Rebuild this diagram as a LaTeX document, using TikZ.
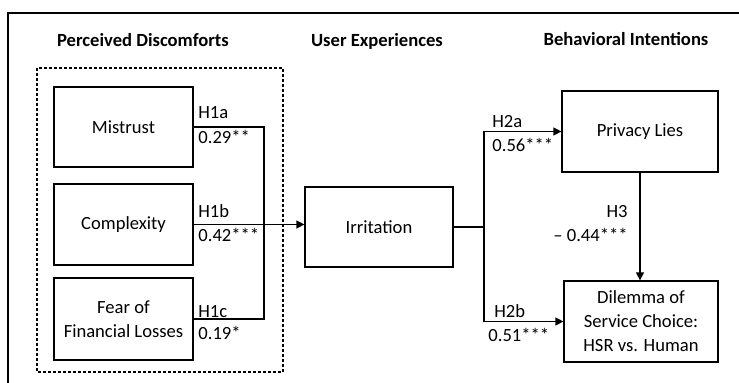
\documentclass[tikz,border=0pt]{standalone}
\usepackage{fontspec}
\setmainfont{Carlito}
\usetikzlibrary{arrows.meta}
\begin{document}
\begin{tikzpicture}[x=0.5pt, y=-0.5pt, font=\fontsize{9.3}{12}\selectfont,
		cbox/.style={draw, line width=0.6pt, align=center, inner sep=0pt},
		lbl/.style={inner sep=0pt},
		ttl/.style={inner sep=0pt, anchor=base, font=\fontsize{9.3}{12}\selectfont\bfseries},
		path_l/.style={line width=0.6pt},
		arr/.style={path_l, -{Triangle[length=4pt, width=4pt]}}]
		\useasboundingbox (0,0) rectangle (739,383);
		% outer frame (cut off right and below)
		\draw[line width=0.8pt] (739,13) -- (8,13) -- (8,383);
		
		% column titles
		\node[ttl] (t1) at (143,47) {Perceived Discomforts};
		\node[ttl] (t2) at (377,47) {User Experiences};
		\node[ttl] (t3) at (626,46) {Behavioral Intentions};
		
		% dashed group
		\draw[line width=0.6pt, dash pattern=on 1.5pt off 1pt] (37,68) rectangle (283,372);
		
		% boxes
		\node[cbox, minimum width=69.5pt, minimum height=40pt] (mistrust) at (123.5,127) {Mistrust};
		\node[cbox, minimum width=69.5pt, minimum height=40.5pt] (complexity) at (123.5,224.5) {Complexity};
		\node[cbox, minimum width=69.5pt, minimum height=41pt] (fear) at (123.5,319) {Fear of\\Financial Losses};
		\node[cbox, minimum width=74pt, minimum height=40pt] (irritation) at (379,227) {Irritation};
		\node[cbox, minimum width=78pt, minimum height=40.5pt] (privacy) at (640,131.5) {Privacy Lies};
		\node[cbox, minimum width=77pt, minimum height=40.5pt] (dilemma) at (641,321.5) {Dilemma of\\Service Choice:\\HSR vs. Human};
		
		% junctions
		\coordinate (j1) at (264,224);
		\coordinate (j2) at (484,227);
		
		% connectors
		\draw[path_l] (mistrust.east) -| (j1);
		\draw[path_l] (fear.east) -| (j1);
		\draw[arr] (complexity.east) -- (complexity.east -| irritation.west);
		\draw[path_l] (irritation.east) -- (j2);
		\draw[arr] (j2) |- (privacy.west);
		\draw[arr] (j2) |- (dilemma.west);
		\draw[arr] (privacy.south) -- (privacy.south |- dilemma.north);
		
		% path labels
		\node[lbl, anchor=base west] (h1a) at (198,119) {H1a};
		\node[lbl, anchor=base west] (v1a) at (198,144) {0.29**};
		\node[lbl, anchor=base west] (h1b) at (198,218) {H1b};
		\node[lbl, anchor=base west] (v1b) at (198,242) {0.42***};
		\node[lbl, anchor=base west] (h1c) at (198,318) {H1c};
		\node[lbl, anchor=base west] (v1c) at (198,340) {0.19*};
		\node[lbl, anchor=base west] (h2a) at (492,128) {H2a};
		\node[lbl, anchor=base west] (v2a) at (492,152) {0.56***};
		\node[lbl, anchor=base west] (h2b) at (494,318) {H2b};
		\node[lbl, anchor=base west] (v2b) at (488,342) {0.51***};
		\node[lbl, anchor=base east] (h3) at (628,218) {H3};
		\node[lbl, anchor=base east] (v3) at (628,242) {\textendash{} 0.44***};
\end{tikzpicture}
\end{document}
